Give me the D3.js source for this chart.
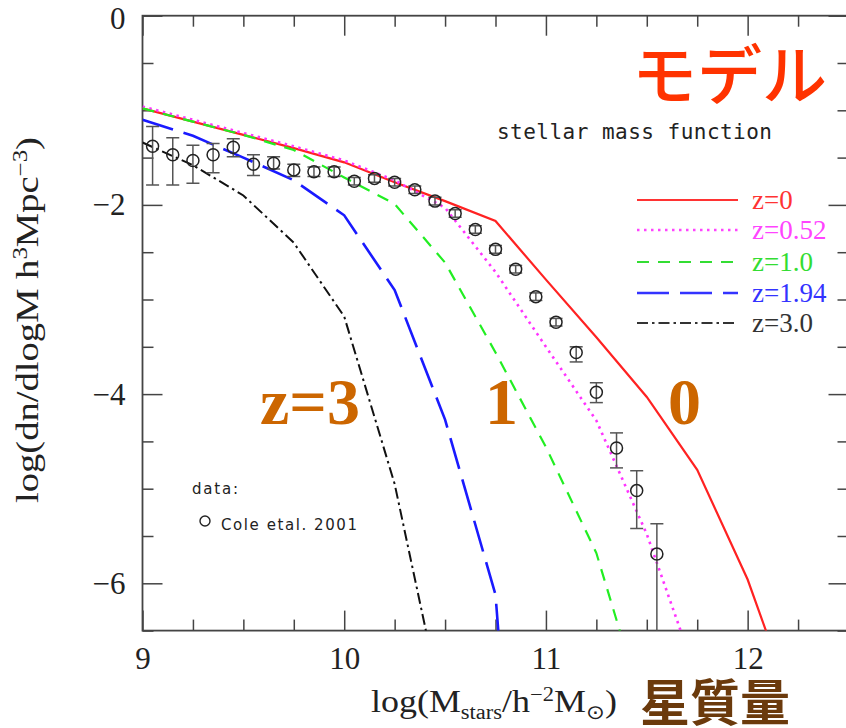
<!DOCTYPE html>
<html>
<head>
<meta charset="utf-8">
<script src="https://cdn.jsdelivr.net/npm/d3@7"></script>
<style>
  html, body { margin: 0; padding: 0; background: #fff; }
  svg { display: block; }
</style>
</head>
<body>
<svg id="chart" width="846" height="728"></svg>
<script>
// Model stellar mass functions at several redshifts (log10 of mass, log10 of number density)
const z0Mass   = [9.0, 9.25, 9.5, 9.75, 10.0, 10.25, 10.5, 10.75, 11.0, 11.25, 11.5, 11.75, 12.0, 12.25];
const z0Phi    = [-0.98, -1.12, -1.26, -1.40, -1.55, -1.76, -1.96, -2.17, -2.79, -3.40, -4.03, -4.80, -5.96, -7.45];
const z052Mass = [9.0, 9.25, 9.5, 9.75, 10.0, 10.25, 10.5, 10.75, 11.0, 11.25, 11.5, 11.75];
const z052Phi  = [-0.96, -1.10, -1.24, -1.38, -1.53, -1.74, -2.03, -2.71, -3.50, -4.28, -5.48, -7.0];
const z1Mass   = [9.0, 9.25, 9.5, 9.75, 10.0, 10.25, 10.5, 10.75, 11.0, 11.25, 11.5];
const z1Phi    = [-0.98, -1.12, -1.26, -1.42, -1.71, -1.99, -2.61, -3.56, -4.56, -5.68, -7.45];
const z194Mass = [9.0, 9.25, 9.5, 9.75, 10.0, 10.25, 10.5, 10.75, 10.8];
const z194Phi  = [-1.10, -1.27, -1.50, -1.74, -2.11, -2.90, -4.27, -6.12, -7.5];
const z3Mass   = [9.0, 9.25, 9.5, 9.75, 10.0, 10.25, 10.5];
const z3Phi    = [-1.34, -1.58, -1.90, -2.40, -3.18, -4.95, -7.45];

// Observed mass function (Cole et al. 2001) with error bars
const coleMass  = [9.05, 9.15, 9.25, 9.35, 9.45, 9.55, 9.65, 9.75, 9.85, 9.95, 10.05, 10.15, 10.25,
                   10.35, 10.45, 10.55, 10.65, 10.75, 10.85, 10.95, 11.05, 11.15, 11.25, 11.35, 11.45, 11.55];
const colePhi   = [-1.38, -1.47, -1.53, -1.47, -1.39, -1.57, -1.56, -1.63, -1.65, -1.65, -1.75, -1.72, -1.76,
                   -1.84, -1.96, -2.09, -2.26, -2.47, -2.68, -2.97, -3.24, -3.56, -3.98, -4.57, -5.02, -5.69];
const coleUpper = [-1.17, -1.29, -1.37, -1.35, -1.30, -1.47, -1.49, -1.57, -1.60, -1.60, -1.71, -1.68, -1.72,
                   -1.80, -1.92, -2.05, -2.22, -2.43, -2.64, -2.93, -3.20, -3.50, -3.88, -4.41, -4.81, -5.37];
const coleLower = [-1.79, -1.79, -1.77, -1.66, -1.49, -1.69, -1.62, -1.70, -1.70, -1.70, -1.79, -1.76, -1.80,
                   -1.88, -2.00, -2.13, -2.30, -2.51, -2.72, -3.01, -3.28, -3.66, -4.09, -4.78, -5.42, -7.5];

const legendLabels = ["z=0", "z=0.52", "z=1.0", "z=1.94", "z=3.0"];
const xMajorTicks = [9, 10, 11, 12];
const yMajorTicks = [0, -2, -4, -6];

const W = 846, H = 728;
const plot = { left: 142.5, right: 848.5, top: 15.7, bottom: 630.6 };

const x = d3.scaleLinear().domain([9, 12.5]).range([plot.left, plot.right]);
const y = d3.scaleLinear().domain([-6.5, 0]).range([plot.bottom, plot.top]);

const svg = d3.select("#chart");
const serif = "'Liberation Serif', 'Times New Roman', serif";
const axisColor = "#444";

svg.append("defs").append("clipPath").attr("id", "plotClip")
  .append("rect")
  .attr("x", plot.left).attr("y", plot.top)
  .attr("width", plot.right - plot.left).attr("height", plot.bottom - plot.top);

// ---- axes: major ticks with labels, minor ticks, on all four sides ----
const xMinor = d3.range(9, 12.51, 0.25).filter(v => Math.abs(v - Math.round(v)) > 1e-6);
const yMinor = d3.range(-6.5, 0.01, 0.5).filter(v => Math.abs(v / 2 - Math.round(v / 2)) > 1e-6);
const fmtY = d => d === 0 ? "0" : "\u2212" + Math.abs(d);

function styleAxis(g) {
  g.select(".domain").remove();
  g.selectAll(".tick line").attr("stroke", axisColor).attr("stroke-width", 1.5);
  g.selectAll(".tick text").attr("font-family", serif).attr("font-size", 31).attr("fill", "#222");
}

svg.append("g").attr("transform", `translate(0,${plot.bottom})`)
  .call(d3.axisBottom(x).tickValues(xMajorTicks).tickSize(-20).tickPadding(16).tickFormat(d3.format("d")))
  .call(styleAxis);
svg.append("g").attr("transform", `translate(0,${plot.bottom})`)
  .call(d3.axisBottom(x).tickValues(xMinor).tickSize(-11).tickFormat(""))
  .call(styleAxis);
svg.append("g").attr("transform", `translate(0,${plot.top})`)
  .call(d3.axisTop(x).tickValues(xMajorTicks).tickSize(-20).tickFormat(""))
  .call(styleAxis);
svg.append("g").attr("transform", `translate(0,${plot.top})`)
  .call(d3.axisTop(x).tickValues(xMinor).tickSize(-11).tickFormat(""))
  .call(styleAxis);

svg.append("g").attr("transform", `translate(${plot.left},0)`)
  .call(d3.axisLeft(y).tickValues(yMajorTicks).tickSize(-20).tickPadding(17).tickFormat(fmtY))
  .call(styleAxis);
svg.append("g").attr("transform", `translate(${plot.left},0)`)
  .call(d3.axisLeft(y).tickValues(yMinor).tickSize(-11).tickFormat(""))
  .call(styleAxis);
svg.append("g").attr("transform", `translate(${plot.right},0)`)
  .call(d3.axisRight(y).tickValues(yMajorTicks).tickSize(-20).tickFormat(""))
  .call(styleAxis);
svg.append("g").attr("transform", `translate(${plot.right},0)`)
  .call(d3.axisRight(y).tickValues(yMinor).tickSize(-11).tickFormat(""))
  .call(styleAxis);

// the "0" label sits at the very top edge; nudge it down so it stays inside
svg.selectAll(".tick text").filter(d => d === 0).attr("dy", "0.40em");

// plot frame
svg.append("rect")
  .attr("x", plot.left).attr("y", plot.top)
  .attr("width", plot.right - plot.left).attr("height", plot.bottom - plot.top)
  .attr("fill", "none").attr("stroke", axisColor).attr("stroke-width", 1.8);

// ---- model curves ----
const series = [
  { mass: z0Mass,   phi: z0Phi,   color: "#ff2222", dash: null,          width: 2.2 },
  { mass: z052Mass, phi: z052Phi, color: "#ff33ff", dash: "2.5 4.5",     width: 2.6 },
  { mass: z1Mass,   phi: z1Phi,   color: "#22ee22", dash: "12 9",        width: 2.2 },
  { mass: z194Mass, phi: z194Phi, color: "#1a1aff", dash: "32 11",       width: 2.6 },
  { mass: z3Mass,   phi: z3Phi,   color: "#111111", dash: "11 4 2.5 4",  width: 2.0 }
];
const legendColors = ["#ff3333", "#ff44ff", "#33dd33", "#3333ff", "#333333"];

const line = d3.line().x(d => x(d[0])).y(d => y(d[1]));
const curves = svg.append("g").attr("clip-path", "url(#plotClip)");
series.forEach(s => {
  curves.append("path")
    .datum(s.mass.map((m, i) => [m, s.phi[i]]))
    .attr("d", line)
    .attr("fill", "none")
    .attr("stroke", s.color)
    .attr("stroke-width", s.width)
    .attr("stroke-dasharray", s.dash);
});

// ---- observational points with error bars ----
const obs = svg.append("g").attr("clip-path", "url(#plotClip)");
const cole = coleMass.map((m, i) => ({ m, p: colePhi[i], hi: coleUpper[i], lo: coleLower[i] }));
obs.selectAll("line.err").data(cole).join("line")
  .attr("class", "err")
  .attr("x1", d => x(d.m)).attr("x2", d => x(d.m))
  .attr("y1", d => y(d.hi)).attr("y2", d => y(d.lo))
  .attr("stroke", "#555").attr("stroke-width", 1.5);
obs.selectAll("line.capHi").data(cole).join("line")
  .attr("class", "capHi")
  .attr("x1", d => x(d.m) - 6.5).attr("x2", d => x(d.m) + 6.5)
  .attr("y1", d => y(d.hi)).attr("y2", d => y(d.hi))
  .attr("stroke", "#555").attr("stroke-width", 1.5);
obs.selectAll("line.capLo").data(cole).join("line")
  .attr("class", "capLo")
  .attr("x1", d => x(d.m) - 6.5).attr("x2", d => x(d.m) + 6.5)
  .attr("y1", d => y(d.lo)).attr("y2", d => y(d.lo))
  .attr("stroke", "#555").attr("stroke-width", 1.5);
obs.selectAll("circle").data(cole).join("circle")
  .attr("cx", d => x(d.m)).attr("cy", d => y(d.p)).attr("r", 6)
  .attr("fill", "none").attr("stroke", "#222").attr("stroke-width", 1.5);

// ---- legend ----
const legend = svg.append("g");
const legendY = [200, 230, 262, 293, 323];
series.forEach((s, i) => {
  legend.append("line")
    .attr("x1", 637).attr("x2", 738)
    .attr("y1", legendY[i]).attr("y2", legendY[i])
    .attr("stroke", legendColors[i])
    .attr("stroke-width", s.width)
    .attr("stroke-dasharray", s.dash);
  legend.append("text")
    .attr("x", 752).attr("y", legendY[i] + 9)
    .attr("font-family", serif).attr("font-size", 27)
    .attr("fill", legendColors[i])
    .text(legendLabels[i]);
});

svg.append("text")
  .attr("x", 497).attr("y", 139)
  .attr("font-family", "'DejaVu Sans Mono', monospace").attr("font-size", 21)
  .attr("fill", "#222").attr("textLength", 275).attr("lengthAdjust", "spacing")
  .text("stellar mass function");

svg.append("text")
  .attr("x", 192).attr("y", 494)
  .attr("font-family", "'DejaVu Sans', sans-serif").attr("font-size", 15)
  .attr("fill", "#222").attr("textLength", 46)
  .text("data:");
svg.append("circle").attr("cx", 205).attr("cy", 521).attr("r", 5)
  .attr("fill", "none").attr("stroke", "#222").attr("stroke-width", 1.4);
svg.append("text")
  .attr("x", 221).attr("y", 530)
  .attr("font-family", "'DejaVu Sans', sans-serif").attr("font-size", 15)
  .attr("fill", "#222").attr("textLength", 136)
  .text("Cole etal. 2001");

// ---- axis titles ----
const xTitle = svg.append("text")
  .attr("x", 371).attr("y", 712)
  .attr("font-family", serif).attr("font-size", 32).attr("fill", "#222")
  .attr("textLength", 246).attr("lengthAdjust", "spacingAndGlyphs");
xTitle.append("tspan").text("log(M");
xTitle.append("tspan").attr("font-size", 20).attr("dy", 7).text("stars");
xTitle.append("tspan").attr("dy", -7).text("/h");
xTitle.append("tspan").attr("font-size", 20).attr("dy", -11).text("\u22122");
xTitle.append("tspan").attr("dy", 11).text("M");
xTitle.append("tspan").attr("font-size", 20).attr("dy", 7).text("\u2299");
xTitle.append("tspan").attr("dy", -7).text(")");

const yTitle = svg.append("text")
  .attr("transform", "translate(38,320) rotate(-90)")
  .attr("text-anchor", "middle")
  .attr("font-family", serif).attr("font-size", 31).attr("fill", "#222")
  .attr("textLength", 366).attr("lengthAdjust", "spacingAndGlyphs");
yTitle.append("tspan").text("log(dn/dlogM h");
yTitle.append("tspan").attr("font-size", 20).attr("dy", -11).text("3");
yTitle.append("tspan").attr("dy", 11).text("Mpc");
yTitle.append("tspan").attr("font-size", 20).attr("dy", -11).text("\u22123");
yTitle.append("tspan").attr("dy", 11).text(")");

// ---- annotations ----
svg.append("text")
  .attr("x", 632).attr("y", 99)
  .attr("font-family", "'Noto Sans CJK JP', sans-serif").attr("font-weight", 500)
  .attr("font-size", 65).attr("fill", "#ff3300")
  .text("モデル");
svg.append("text")
  .attr("x", 640).attr("y", 721)
  .attr("font-family", "'Noto Sans CJK JP', sans-serif").attr("font-weight", 700)
  .attr("font-size", 50).attr("fill", "#6b3a0c")
  .text("星質量");

const zNote = { fill: "#cc6600", size: 66 };
[["z=3", 260], ["1", 485], ["0", 668]].forEach(([t, px]) => {
  svg.append("text")
    .attr("x", px).attr("y", 424)
    .attr("font-family", serif).attr("font-weight", 700)
    .attr("font-size", zNote.size).attr("fill", zNote.fill)
    .text(t);
});
</script>
</body>
</html>
